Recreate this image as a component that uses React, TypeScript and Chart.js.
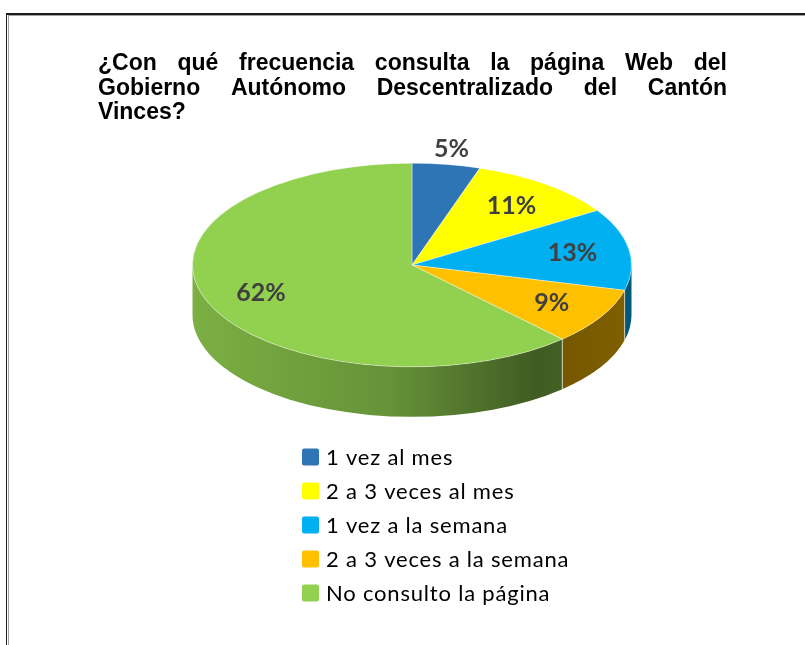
import React, { useEffect, useRef } from 'react';
import { Chart, registerables } from 'chart.js';

Chart.register(...registerables);

const TITLE_LINES = [
  '¿Con qué frecuencia consulta la página Web del',
  'Gobierno Autónomo Descentralizado del Cantón',
  'Vinces?',
];
const CATEGORIES = [
  '1 vez al mes',
  '2 a 3 veces al mes',
  '1 vez a la semana',
  '2 a 3 veces a la semana',
  'No consulto la página',
];
const VALUES = [5, 11, 13, 9, 62];
const COLORS = ['#2E75B6', '#FFFF00', '#00B0F0', '#FFC000', '#92D050'];

const TILT = 0.464;
const DEPTH = 50;

function shade(hex: string, f: number) {
  const n = parseInt(hex.slice(1), 16);
  const r = Math.round(((n >> 16) & 255) * f);
  const g = Math.round(((n >> 8) & 255) * f);
  const b = Math.round((n & 255) * f);
  return `rgb(${r},${g},${b})`;
}

const pie3d = {
  id: 'pie3d',
  beforeDraw(chart: any) {
    const ctx = chart.ctx;
    const w = chart.width;
    const h = chart.height;
    ctx.save();
    ctx.fillStyle = '#ffffff';
    ctx.fillRect(0, 0, w, h);
    // frame
    ctx.fillStyle = '#1c1c1c';
    ctx.fillRect(6, 13, w - 6, 2);
    ctx.fillRect(6, 13, 1, h - 13);
    ctx.fillStyle = '#a0a0a0';
    ctx.fillRect(8, 15, w - 8, 1);
    ctx.fillRect(8, 15, 1, h - 15);
    // title (justified)
    ctx.font = 'bold 23px "Liberation Sans", Arial, sans-serif';
    ctx.fillStyle = '#000000';
    ctx.textBaseline = 'alphabetic';
    ctx.textAlign = 'left';
    const L = 98;
    const R = 727;
    TITLE_LINES.forEach((line, li) => {
      const y = 70 + li * 24.5;
      const words = line.split(' ');
      if (li === TITLE_LINES.length - 1 || words.length < 2) {
        ctx.fillText(line, L, y);
        return;
      }
      const widths = words.map((wd) => ctx.measureText(wd).width);
      const sum = widths.reduce((a, b) => a + b, 0);
      const gap = (R - L - sum) / (words.length - 1);
      let x = L;
      words.forEach((wd, i) => {
        ctx.fillText(wd, x, y);
        x += widths[i] + gap;
      });
    });
    ctx.restore();
  },
  beforeDatasetsDraw(chart: any) {
    const ctx = chart.ctx;
    const meta = chart.getDatasetMeta(0);
    const arcs = meta.data;
    if (!arcs.length) return;
    const p0 = arcs[0].getProps(['x', 'y', 'outerRadius'], true);
    const cx = p0.x;
    const cy = p0.y;
    const rx = p0.outerRadius;
    const ry = rx * TILT;
    const bg = chart.data.datasets[0].backgroundColor;
    ctx.save();
    arcs.forEach((arc: any, i: number) => {
      const { startAngle, endAngle } = arc.getProps(['startAngle', 'endAngle'], true);
      const a1 = Math.max(startAngle, 0);
      const a2 = Math.min(endAngle, Math.PI);
      if (a2 <= a1) return;
      const g = ctx.createLinearGradient(cx - rx, 0, cx + rx, 0);
      g.addColorStop(0, shade(bg[i], 0.84));
      g.addColorStop(0.45, shade(bg[i], 0.7));
      g.addColorStop(0.78, shade(bg[i], 0.44));
      g.addColorStop(1, shade(bg[i], 0.5));
      ctx.beginPath();
      ctx.ellipse(cx, cy, rx, ry, 0, a1, a2, false);
      ctx.ellipse(cx, cy + DEPTH, rx, ry, 0, a2, a1, true);
      ctx.closePath();
      ctx.fillStyle = g;
      ctx.fill();
      ctx.strokeStyle = 'rgba(255,255,255,0.5)';
      ctx.lineWidth = 1;
      [a1, a2].forEach((a) => {
        if (a > 0.01 && a < Math.PI - 0.01) {
          const x = cx + rx * Math.cos(a);
          const y = cy + ry * Math.sin(a);
          ctx.beginPath();
          ctx.moveTo(x, y);
          ctx.lineTo(x, y + DEPTH);
          ctx.stroke();
        }
      });
    });
    ctx.restore();
    ctx.save();
    ctx.translate(0, cy);
    ctx.scale(1, TILT);
    ctx.translate(0, -cy);
  },
  afterDatasetsDraw(chart: any) {
    const ctx = chart.ctx;
    ctx.restore();
    const meta = chart.getDatasetMeta(0);
    const arcs = meta.data;
    if (!arcs.length) return;
    const p0 = arcs[0].getProps(['x', 'y', 'outerRadius'], true);
    const cx = p0.x;
    const cy = p0.y;
    const rx = p0.outerRadius;
    const ry = rx * TILT;
    const data = chart.data.datasets[0].data as number[];
    const total = data.reduce((a, b) => a + b, 0);
    ctx.save();
    // percentage labels
    ctx.font = 'bold 25px Lato, "Open Sans", sans-serif';
    ctx.fillStyle = '#404040';
    ctx.textAlign = 'center';
    ctx.textBaseline = 'middle';
    arcs.forEach((arc: any, i: number) => {
      const { startAngle, endAngle } = arc.getProps(['startAngle', 'endAngle'], true);
      const mid = (startAngle + endAngle) / 2;
      const share = data[i] / total;
      const frac = share < 0.06 ? 1.15 : 0.74;
      const x = cx + rx * frac * Math.cos(mid);
      const y = cy + ry * frac * Math.sin(mid);
      ctx.fillText(`${Math.round(share * 100)}%`, x, y);
    });
    // legend
    const labels = chart.data.labels as string[];
    const bg = chart.data.datasets[0].backgroundColor;
    ctx.textAlign = 'left';
    ctx.font = '22px Lato, "Open Sans", sans-serif';
    (ctx as any).letterSpacing = '0.8px';
    labels.forEach((lab, i) => {
      const y = 457 + i * 34;
      ctx.fillStyle = bg[i];
      ctx.beginPath();
      (ctx as any).roundRect(302, y - 8.5, 17, 17, 2);
      ctx.fill();
      ctx.fillStyle = '#000000';
      ctx.fillText(lab, 326, y + 1);
    });
    ctx.restore();
  },
};

export default function App() {
  const ref = useRef<HTMLCanvasElement | null>(null);
  useEffect(() => {
    if (!ref.current) return;
    const chart = new Chart(ref.current, {
      type: 'pie',
      data: {
        labels: CATEGORIES,
        datasets: [
          {
            data: VALUES,
            backgroundColor: COLORS,
            borderColor: 'rgba(255,255,255,0.55)',
            borderWidth: 1,
            clip: false,
          } as any,
        ],
      },
      options: {
        animation: false,
        responsive: true,
        maintainAspectRatio: false,
        events: [],
        layout: { padding: { left: 192, right: 173, top: 45, bottom: 160 } },
        plugins: {
          legend: { display: false },
          title: { display: false },
          tooltip: { enabled: false },
        },
      },
      plugins: [pie3d],
    });
    return () => chart.destroy();
  }, []);
  return (
    <div style={{ position: 'fixed', left: 0, top: 0, width: 805, height: 645 }}>
      <canvas ref={ref} />
    </div>
  );
}
